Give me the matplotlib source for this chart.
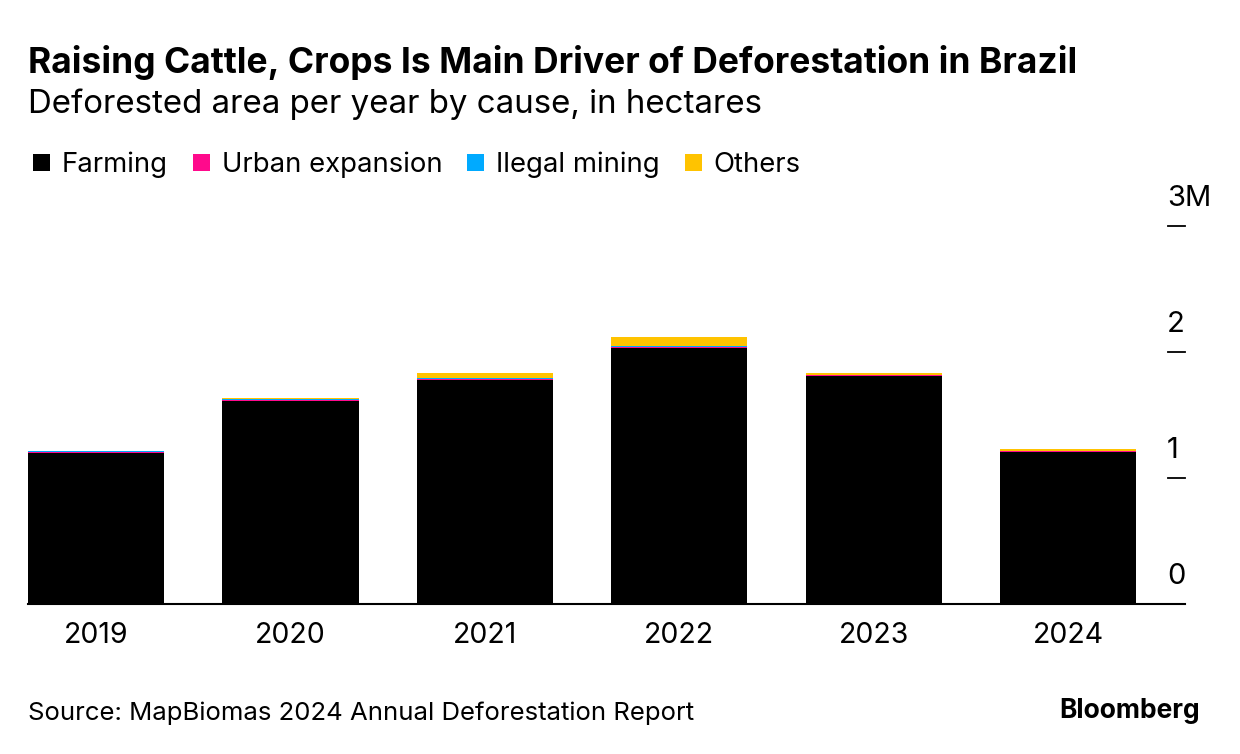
import matplotlib
matplotlib.use("Agg")
import matplotlib.pyplot as plt
import numpy as np
from matplotlib.patches import Patch

plt.rcParams["font.family"] = ["Inter", "DejaVu Sans"]

# data (hectares)
years = ["2019", "2020", "2021", "2022", "2023", "2024"]
farming = [1200000, 1615000, 1780000, 2035000, 1810000, 1210000]
urban = [3000, 3000, 4000, 4000, 4000, 3000]
mining = [9000, 8000, 12000, 8000, 4000, 3000]
others = [4000, 8000, 40000, 75000, 15000, 16000]

series = [
    ("Farming", farming, "#000000"),
    ("Urban expansion", urban, "#ff0a8c"),
    ("Ilegal mining", mining, "#00aaff"),
    ("Others", others, "#ffc300"),
]

yticks = [0, 1000000, 2000000, 3000000]
ytick_labels = ["0", "1", "2", "3M"]

fig = plt.figure(figsize=(12.4, 7.54), dpi=100)
ax = fig.add_axes([28 / 1240, 1 - 604 / 754, (1185 - 28) / 1240, (604 - 226) / 754])

x = np.arange(len(years))
bottom = np.zeros(len(years))
for name, vals, color in series:
    ax.bar(x, vals, width=0.7, bottom=bottom, color=color, linewidth=0, label=name)
    bottom += np.array(vals)

ax.set_xlim(-0.35, 5.6)
ax.set_ylim(0, 3000000)

for s in ["top", "right", "left"]:
    ax.spines[s].set_visible(False)
ax.spines["bottom"].set_color("#000000")
ax.spines["bottom"].set_linewidth(1.5)

ax.set_yticks([])
ax.set_xticks(x)
ax.set_xticklabels(years, fontsize=20.5)
ax.tick_params(axis="x", length=0, pad=13)

# right-side tick marks with labels above them
ytr = ax.get_yaxis_transform()
for v, lab in zip(yticks, ytick_labels):
    if v > 0:
        ax.plot([0.9855, 1.0], [v, v], transform=ytr, color="black", lw=1.3, clip_on=False)
    ax.text(0.9845, v + 215000, lab, transform=ytr, fontsize=21, ha="left", va="center")

# titles
fig.text(28 / 1240, 1 - 62 / 754, "Raising Cattle, Crops Is Main Driver of Deforestation in Brazil",
         fontsize=25.5, fontweight="bold", va="center", ha="left")
fig.text(28 / 1240, 1 - 104 / 754, "Deforested area per year by cause, in hectares",
         fontsize=23.8, va="center", ha="left")

# legend
handles = [Patch(facecolor=c, edgecolor="none", label=n) for n, _, c in series]
fig.legend(handles=handles, loc="center left", bbox_to_anchor=(33 / 1240, 1 - 165 / 754),
           ncol=4, frameon=False, fontsize=19.8, handlelength=0.62, handleheight=0.62,
           handletextpad=0.42, columnspacing=0.92, borderaxespad=0, borderpad=0)

# footer
fig.text(28 / 1240, 1 - 713 / 754, "Source: MapBiomas 2024 Annual Deforestation Report",
         fontsize=18.5, va="center", ha="left")
fig.text(1200 / 1240, 1 - 711 / 754, "Bloomberg", fontsize=19, fontweight="bold",
         va="center", ha="right")

fig.savefig("out.png", dpi=100, facecolor="white")
